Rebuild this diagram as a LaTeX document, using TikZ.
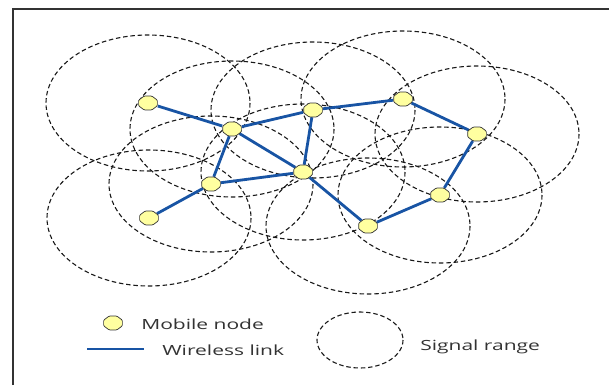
\documentclass[tikz,border=0pt]{standalone}
\usepackage{fontspec}
\setmainfont{Open Sans}
\usepackage{xcolor}
\usetikzlibrary{shapes.geometric,backgrounds}

\definecolor{linkblue}{RGB}{24,84,164}
\definecolor{nodeyellow}{RGB}{255,255,160}

\tikzset{
  mobile/.style={draw=black!80, fill=nodeyellow, regular polygon, regular polygon sides=8,
    minimum size=15pt, inner sep=0pt, rounded corners=1pt, xscale=1.35, line width=0.7pt},
  link/.style={draw=linkblue, line width=2.8pt},
  sigrange/.style={draw=black!90, line width=1.1pt, dash pattern=on 4.5pt off 2.8pt},
  legendtext/.style={font=\fontsize{14}{16}\selectfont, text=black!80, xscale=1.5, inner sep=0pt, anchor=base west}
}

\begin{document}
\begin{tikzpicture}[x=1pt,y=-1pt]
            \useasboundingbox (0,0) rectangle (609,385);
            \draw[line width=2.2pt, black!80] (13,385) -- (13,9) -- (609,9);

            \node[mobile] (1) at (148,103) {};
            \node[mobile] (2) at (232,129) {};
            \node[mobile] (3) at (313,110) {};
            \node[mobile] (4) at (403,99) {};
            \node[mobile] (5) at (477,134) {};
            \node[mobile] (6) at (303,172) {};
            \node[mobile] (7) at (211,184) {};
            \node[mobile] (8) at (149,218) {};
            \node[mobile] (9) at (440,195) {};
            \node[mobile] (10) at (368,226) {};

            \begin{scope}[on background layer]
              \foreach \n in {1,...,10}
                \draw[sigrange] (\n) ellipse [x radius=102, y radius=68];
              \draw[link] (1) -- (2) -- (3) -- (4) -- (5) -- (9) -- (10) -- (6) -- (3);
              \draw[link] (8) -- (7) -- (2) -- (6) -- (7);
            \end{scope}

            % legend
            \node[mobile] (key) at (113,323) {};
            \node[legendtext] (keytext) at (141,329) {Mobile node};
            \coordinate (la) at (87,349);
            \coordinate (lb) at (144,349);
            \draw[link, line width=2.4pt] (la) -- (lb);
            \node[legendtext] (linktext) at (162,355) {Wireless link};
            \draw[sigrange] (360,340) ellipse [x radius=43, y radius=28];
            \node[legendtext] (rangetext) at (420,350) {Signal range};
        \end{tikzpicture}
\end{document}
